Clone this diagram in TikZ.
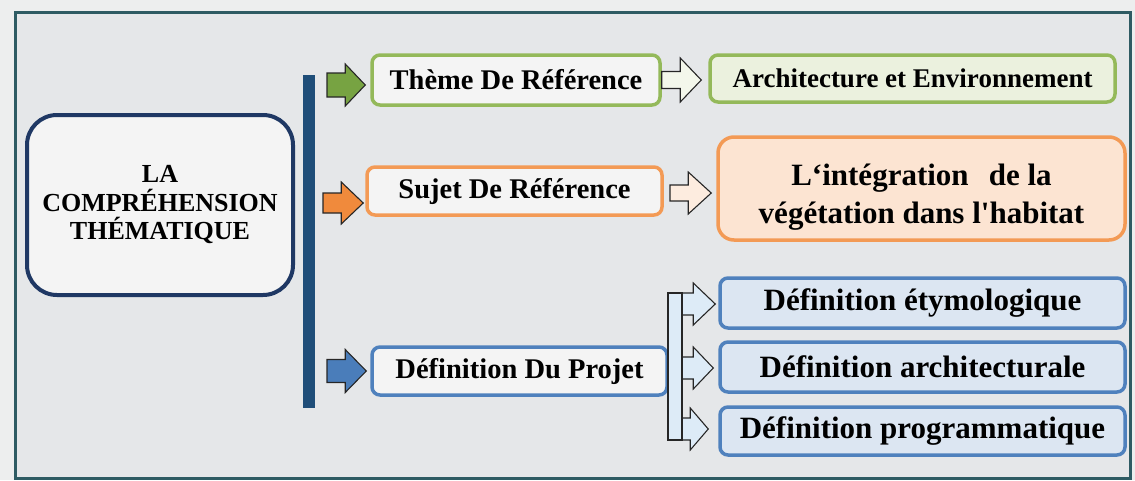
\documentclass[tikz,border=0pt]{standalone}
\usepackage{fontspec}
\setmainfont{Liberation Serif}[Ligatures=TeXOff]
\usetikzlibrary{calc}

\definecolor{outerbg}{HTML}{EDEEEE}
\definecolor{panelbg}{HTML}{E5E7E9}
\definecolor{framecol}{HTML}{2E5B63}
\definecolor{navy}{HTML}{1F3864}
\definecolor{spinecol}{HTML}{1F4E79}
\definecolor{lightbox}{HTML}{F4F4F4}
\definecolor{grn}{HTML}{94B95A}
\definecolor{grnarrow}{HTML}{77A342}
\definecolor{grnpale}{HTML}{EBF1DE}
\definecolor{org}{HTML}{F39A55}
\definecolor{orgarrow}{HTML}{F08A3C}
\definecolor{orgpale}{HTML}{FCE4D2}
\definecolor{blu}{HTML}{4F81BD}
\definecolor{bluarrow}{HTML}{4A7DBA}
\definecolor{blupale}{HTML}{DCE6F2}
\definecolor{bracketfill}{HTML}{DDEBF7}

% block arrow: style, start point, tip point, shaft half-height, head half-height, head length
\newcommand\blockarrow[6]{%
  \filldraw[#1] let \p1=(#2), \p2=(#3) in
    (\x1,\y1+#4) -- (\x2-#6,\y1+#4) -- (\x2-#6,\y1+#5) -- (\x2,\y1)
    -- (\x2-#6,\y1-#5) -- (\x2-#6,\y1-#4) -- (\x1,\y1-#4) -- cycle;}

\begin{document}
\begin{tikzpicture}[x=1pt,y=-1pt,
  box/.style={rectangle, rounded corners=8pt, line width=3.5pt, fill=lightbox,
    text=black, font=\fontsize{28.5}{32}\selectfont\bfseries, inner sep=0pt},
  subbox/.style={box, fill=blupale, draw=blu, minimum width=405pt,
    font=\fontsize{31}{34}\selectfont\bfseries},
  arrowline/.style={draw=black!85, line width=1.1pt, line join=miter},
]
\useasboundingbox (0,0) rectangle (1135,480);

% page and framed panel
\fill[outerbg] (0,0) rectangle (1135,480);
\fill[panelbg] (15,12) rectangle (1130,478);
\draw[framecol, line width=3pt] (15,12) rectangle (1130,478);

% central theme box
\node[box, draw=navy, line width=4pt, rounded corners=30pt, fill=lightbox,
      minimum width=266pt, minimum height=180pt, align=center,
      font=\fontsize{26}{28.5}\selectfont\bfseries] (main) at (160,205)
  {LA\\COMPRÉHENSION\\THÉMATIQUE};

% spine
\fill[spinecol] (303,75) rectangle (315,408);

% first level
\node[box, draw=grn, minimum width=288pt, minimum height=50pt] (theme) at (516,80)
  {Thème De Référence};
\node[box, draw=org, minimum width=295pt, minimum height=48pt] (sujet) at (514.5,191)
  {Sujet De Référence};
\node[box, draw=blu, minimum width=295pt, minimum height=48pt] (projet) at (519.5,371)
  {Définition Du Projet};

% second level
\node[box, draw=grn, fill=grnpale, minimum width=405pt, minimum height=47pt,
      font=\fontsize{27}{30}\selectfont\bfseries] (arch) at (912.5,78.5)
  {Architecture et Environnement};
\node[box, draw=org, fill=orgpale, rounded corners=16pt, minimum width=407pt,
      minimum height=103pt] (integ) at (921.5,188.5) {};
\node[align=center, inner sep=0pt, text=black,
      font=\fontsize{31}{38}\selectfont\bfseries] (integtext) at (921.5,197)
  {L‘intégration\hspace{0.4em} de la\\végétation dans l'habitat};
\node[subbox, minimum height=50pt] (def1) at (922.5,303) {Définition étymologique};
\node[subbox, minimum height=50pt] (def2) at (922.5,367) {Définition architecturale};
\node[subbox, minimum height=48pt] (def3) at (922.5,431) {Définition programmatique};

% arrows from the spine
\coordinate (gA) at (327,85);
\coordinate (oA) at (323,203);
\coordinate (bA) at (327,371);
\blockarrow{arrowline, fill=grnarrow}{gA}{[xshift=-5pt]theme.west}{12pt}{21pt}{20pt}
\blockarrow{arrowline, fill=orgarrow}{oA}{[xshift=-2pt]sujet.west}{10pt}{21pt}{22pt}
\blockarrow{arrowline, fill=bluarrow}{bA}{[xshift=-4pt]projet.west}{11.5pt}{21.5pt}{21pt}

% arrows to the second level
\coordinate (sB) at (670,193);
\blockarrow{arrowline, fill=grnpale!60!white}{theme.east}{[xshift=-7pt]arch.west}{8.5pt}{22pt}{21pt}
\blockarrow{arrowline, fill=orgpale!70!white}{sB}{[xshift=-5pt]integ.west}{8pt}{21pt}{23pt}

% branching bracket towards the definitions
\coordinate (k1) at (668,304);
\coordinate (k2) at (668,368);
\coordinate (k3) at (668,429);
\blockarrow{arrowline, fill=bracketfill}{k1}{[xshift=-3pt]def1.west}{11pt}{21pt}{22pt}
\blockarrow{arrowline, fill=bracketfill}{k2}{[xshift=-5pt]def2.west}{11pt}{21pt}{20pt}
\blockarrow{arrowline, fill=bracketfill}{k3}{[xshift=-10pt]def3.west}{11pt}{21pt}{18pt}
\filldraw[arrowline, fill=bracketfill] (668,293) rectangle (682,440);
\end{tikzpicture}
\end{document}
